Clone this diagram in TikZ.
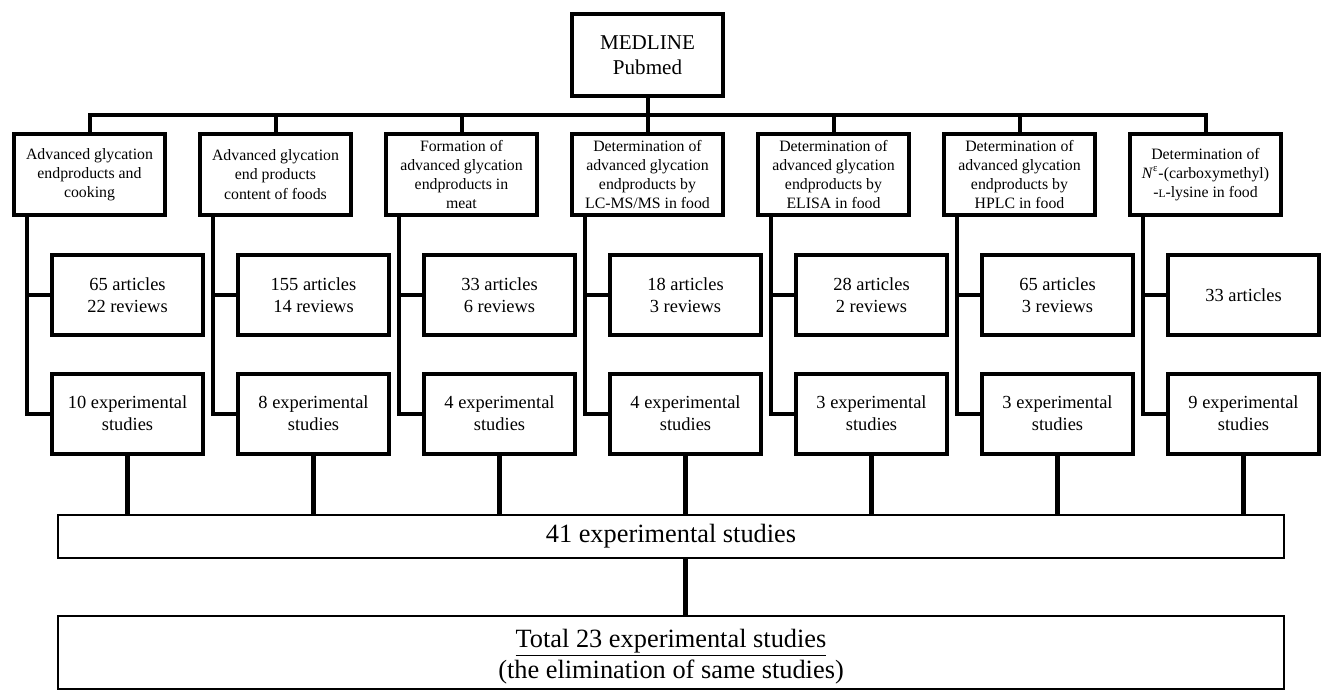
\documentclass[tikz,border=0pt]{standalone}
\usepackage{fontspec}
\setmainfont{Liberation Serif}
\usetikzlibrary{calc}

\begin{document}
\begin{tikzpicture}[
    x = 0.02cm, y = -0.02cm,
    topic/.style = {draw, line width = 0.08cm, align = center, inner sep = 1pt,
      minimum width = 3.02cm, minimum height = 1.62cm,
      font = \fontsize{9}{10.9}\selectfont},
    tally/.style = {draw, line width = 0.08cm, align = center,
      minimum width = 3.02cm, minimum height = 1.6cm,
      font = \fontsize{10.5}{12.5}\selectfont},
    sumbox/.style = {draw, line width = 0.04cm, align = center,
      minimum width = 24.52cm, font = \fontsize{15}{17.6}\selectfont},
    link/.style = {line width = 0.08cm},
    drop/.style = {line width = 0.1cm}
  ]
  \useasboundingbox (0,0) rectangle (1322,691);

  \node[draw, line width = 0.08cm, align = center, minimum width = 3.02cm,
    minimum height = 1.64cm, font = \fontsize{12}{14.2}\selectfont]
    (Medline) at (647.5,55) {MEDLINE\\Pubmed};

  % search topics
  \node[topic] (t1) at (89.5,174.5) {Advanced glycation\\endproducts and\\cooking};
  \node[topic] (t2) at (275.5,174.5) {Advanced glycation\\end products\\content of foods};
  \node[topic] (t3) at (461.5,174.5) {Formation of\\advanced glycation\\endproducts in\\meat};
  \node[topic] (t4) at (647.5,174.5) {Determination of\\advanced glycation\\endproducts by\\LC-MS/MS in food};
  \node[topic] (t5) at (833.5,174.5) {Determination of\\advanced glycation\\endproducts by\\ELISA in food};
  \node[topic] (t6) at (1019.5,174.5) {Determination of\\advanced glycation\\endproducts by\\HPLC in food};
  \node[topic] (t7) at (1205.5,174.5) {Determination of\\\textit{N}\textsuperscript{ε}-(carboxymethyl)\\-{\fontsize{6.5}{7}\selectfont L}-lysine in food};

  % hits
  \node[tally] (c1) at (127.5,295) {65 articles\\22 reviews};
  \node[tally] (c2) at (313.5,295) {155 articles\\14 reviews};
  \node[tally] (c3) at (499.5,295) {33 articles\\6 reviews};
  \node[tally] (c4) at (685.5,295) {18 articles\\3 reviews};
  \node[tally] (c5) at (871.5,295) {28 articles\\2 reviews};
  \node[tally] (c6) at (1057.5,295) {65 articles\\3 reviews};
  \node[tally] (c7) at (1243.5,295) {33 articles};

  \node[tally] (e1) at (127.5,413.5) {10 experimental\\studies};
  \node[tally] (e2) at (313.5,413.5) {8 experimental\\studies};
  \node[tally] (e3) at (499.5,413.5) {4 experimental\\studies};
  \node[tally] (e4) at (685.5,413.5) {4 experimental\\studies};
  \node[tally] (e5) at (871.5,413.5) {3 experimental\\studies};
  \node[tally] (e6) at (1057.5,413.5) {3 experimental\\studies};
  \node[tally] (e7) at (1243.5,413.5) {9 experimental\\studies};

  \node[sumbox, minimum height = 0.86cm] (Sum) at (671,536.5) {41 experimental studies};
  \node[sumbox, minimum height = 1.46cm, inner ysep = 1pt] (Total) at (671,652.5)
    {\rule{0pt}{15pt}\underline{Total 23 experimental studies}\\(the elimination of same studies)};

  % Connectors
  \coordinate (bus) at (647.5,115);
  \draw[link] (Medline) -- (bus);
  \draw[link] (t1.north) |- (bus) -| (t7.north);
  \draw[link] (t2.north) -- (t2.north |- bus);
  \draw[link] (t3.north) -- (t3.north |- bus);
  \draw[link] (t4.north) -- (t4.north |- bus);
  \draw[link] (t5.north) -- (t5.north |- bus);
  \draw[link] (t6.north) -- (t6.north |- bus);

  \draw[link] ([xshift=0.29cm]t1.south west) |- (c1.west) ([xshift=0.29cm]t1.south west) |- (e1.west);
  \draw[link] ([xshift=0.29cm]t2.south west) |- (c2.west) ([xshift=0.29cm]t2.south west) |- (e2.west);
  \draw[link] ([xshift=0.29cm]t3.south west) |- (c3.west) ([xshift=0.29cm]t3.south west) |- (e3.west);
  \draw[link] ([xshift=0.29cm]t4.south west) |- (c4.west) ([xshift=0.29cm]t4.south west) |- (e4.west);
  \draw[link] ([xshift=0.29cm]t5.south west) |- (c5.west) ([xshift=0.29cm]t5.south west) |- (e5.west);
  \draw[link] ([xshift=0.29cm]t6.south west) |- (c6.west) ([xshift=0.29cm]t6.south west) |- (e6.west);
  \draw[link] ([xshift=0.29cm]t7.south west) |- (c7.west) ([xshift=0.29cm]t7.south west) |- (e7.west);

  \draw[drop] (e1.south) -- (e1.south |- Sum.north);
  \draw[drop] (e2.south) -- (e2.south |- Sum.north);
  \draw[drop] (e3.south) -- (e3.south |- Sum.north);
  \draw[drop] (e4.south) -- (e4.south |- Sum.north);
  \draw[drop] (e5.south) -- (e5.south |- Sum.north);
  \draw[drop] (e6.south) -- (e6.south |- Sum.north);
  \draw[drop] (e7.south) -- (e7.south |- Sum.north);
  \draw[drop] (e4.south |- Sum.south) -- (e4.south |- Total.north);
\end{tikzpicture}
\end{document}
